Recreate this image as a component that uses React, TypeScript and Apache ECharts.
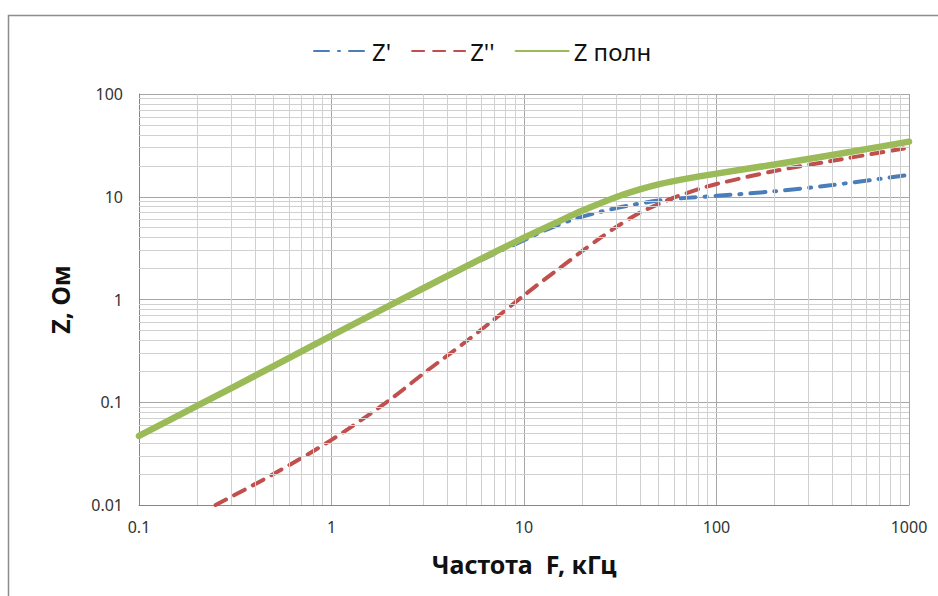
import React, { useEffect, useRef } from "react";
import * as echarts from "echarts";

const freqFull = [0.1, 0.2, 0.5, 1, 2, 5, 10, 15, 20, 30, 40, 50, 70, 100, 200, 500, 1000];
const zFull = [0.047, 0.092, 0.225, 0.445, 0.87, 2.1, 4.0, 5.7, 7.3, 9.9, 11.8, 13.2, 15.0, 16.8, 20.6, 27.4, 34.4];

const freqRe = [0.1, 0.2, 0.5, 1, 2, 5, 7, 10, 12, 15, 18, 25, 35, 50, 70, 100, 200, 400, 1000];
const zRe = [0.047, 0.092, 0.225, 0.445, 0.86, 2.05, 2.78, 3.78, 4.45, 5.3, 6.0, 7.15, 8.2, 9.2, 9.75, 10.2, 11.3, 13.0, 16.3];

const freqIm = [0.25, 0.5, 1, 2, 3, 5, 7, 10, 15, 20, 25, 30, 40, 50, 60, 80, 100, 200, 400, 1000];
const zIm = [0.01, 0.02, 0.043, 0.105, 0.19, 0.39, 0.64, 1.1, 1.96, 2.95, 4.0, 5.05, 7.0, 8.5, 9.8, 11.8, 13.3, 17.8, 22.4, 30];

const seriesNames = ["Z'", "Z''", "Z полн"];
const xMinorGrid = [0.2, 0.3, 0.4, 0.5, 0.6, 0.7, 0.8, 0.9, 2, 3, 4, 5, 6, 7, 8, 9, 20, 30, 40, 50, 60, 70, 80, 90, 200, 300, 400, 500, 600, 700, 800, 900];
const yMinorGrid = [0.02, 0.03, 0.04, 0.05, 0.06, 0.07, 0.08, 0.09, 0.2, 0.3, 0.4, 0.5, 0.6, 0.7, 0.8, 0.9, 2, 3, 4, 5, 6, 7, 8, 9, 20, 30, 40, 50, 60, 70, 80, 90];

const FONT = "'Noto Sans', sans-serif";

const pairs = (xs: number[], ys: number[]) => xs.map((x, i) => [x, ys[i]]);
const fmt = (v: number) => String(+Number(v).toPrecision(6));

export default function App() {
  const ref = useRef<HTMLDivElement>(null);
  useEffect(() => {
    document.body.style.margin = "0";
    const chart = echarts.init(ref.current!, null, { renderer: "svg" });
    chart.setOption({
      animation: false,
      backgroundColor: "#fff",
      textStyle: { fontFamily: FONT },
      graphic: [
        {
          type: "rect",
          shape: { x: 8.5, y: 15.5, width: 1000, height: 1000 },
          style: { fill: "none", stroke: "#8c8c8c", lineWidth: 1.5 },
          silent: true,
        },
      ],
      legend: {
        top: 34,
        left: 308,
        itemWidth: 53,
        itemHeight: 8,
        itemGap: 20,
        itemStyle: { opacity: 0 },
        textStyle: { fontFamily: FONT, fontSize: 24, color: "#111" },
        data: seriesNames,
      },
      grid: { left: 139, right: 29, top: 94, bottom: 91, containLabel: false },
      xAxis: {
        type: "log",
        logBase: 10,
        min: 0.1,
        max: 1000,
        name: "Частота  F, кГц",
        nameLocation: "middle",
        nameGap: 46,
        nameTextStyle: { fontFamily: FONT, fontSize: 25, fontWeight: "bold", color: "#111" },
        axisLine: { show: true, lineStyle: { color: "#868686", width: 1 } },
        axisTick: { show: false },
        axisLabel: { margin: 14, fontSize: 16, color: "#333", fontFamily: FONT, formatter: fmt },
        splitLine: { show: true, lineStyle: { color: "#a6a6a6", width: 1 } },
      },
      yAxis: {
        type: "log",
        logBase: 10,
        min: 0.01,
        max: 100,
        name: "Z, Ом",
        nameLocation: "middle",
        nameGap: 67,
        nameRotate: 90,
        nameTextStyle: { fontFamily: FONT, fontSize: 25, fontWeight: "bold", color: "#111" },
        axisLine: { show: true, lineStyle: { color: "#868686", width: 1 } },
        axisTick: { show: false },
        axisLabel: { margin: 16, fontSize: 16, color: "#333", fontFamily: FONT, formatter: fmt },
        splitLine: { show: true, lineStyle: { color: "#a6a6a6", width: 1 } },
      },
      series: [
        {
          name: "minor-grid",
          type: "line",
          data: [],
          z: 1,
          silent: true,
          markLine: {
            silent: true,
            symbol: ["none", "none"],
            label: { show: false },
            lineStyle: { type: "solid", color: "#d0d0d0", width: 1 },
            emphasis: { disabled: true },
            data: [
              ...xMinorGrid.map((v) => ({ xAxis: v })),
              ...yMinorGrid.map((v) => ({ yAxis: v })),
            ],
          },
        },
        {
          name: seriesNames[0],
          type: "line",
          data: pairs(freqRe, zRe),
          smooth: 0.3,
          symbol: "none",
          z: 3,
          lineStyle: { color: "#4a7ebb", width: 4, type: [15, 9, 2, 9], cap: "round" },
          itemStyle: { color: "#4a7ebb" },
        },
        {
          name: seriesNames[1],
          type: "line",
          data: pairs(freqIm, zIm),
          smooth: 0.3,
          symbol: "none",
          z: 4,
          lineStyle: { color: "#c0504d", width: 4, type: [12, 9], cap: "round" },
          itemStyle: { color: "#c0504d" },
        },
        {
          name: seriesNames[2],
          type: "line",
          data: pairs(freqFull, zFull),
          smooth: 0.3,
          symbol: "none",
          z: 5,
          lineStyle: { color: "#9bbb59", width: 6.5, cap: "round" },
          itemStyle: { color: "#9bbb59" },
        },
      ],
    });
    return () => chart.dispose();
  }, []);
  return <div ref={ref} style={{ width: 938, height: 596 }} />;
}
